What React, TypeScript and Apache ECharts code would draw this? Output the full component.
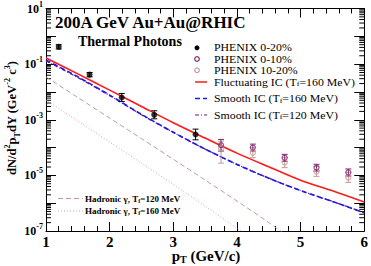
import React, { useEffect, useRef } from "react";
import * as echarts from "echarts";

const FONT = "'Liberation Serif', 'Times New Roman', serif";

// PHENIX 0-20% (filled black)
const phx020X = [1.2, 1.685, 2.19, 2.7, 3.35];
const phx020Y = [0.42, 0.042, 0.0063, 0.0015, 2.95e-4];
const phx020Lo = [0.35, 0.035, 0.0045, 0.00108, 1.9e-4];
const phx020Hi = [0.5, 0.05, 0.0088, 0.0021, 4.6e-4];

// PHENIX 0-10% and 10-20% (open circles)
const phxX = [3.75, 4.25, 4.75, 5.25, 5.75];
const phx010Y = [1.23e-4, 1.0e-4, 4.3e-5, 1.9e-5, 1.27e-5];
const phx010Lo = [7.5e-5, 7.5e-5, 3.2e-5, 1.43e-5, 9.5e-6];
const phx010Hi = [1.96e-4, 1.33e-4, 5.7e-5, 2.5e-5, 1.7e-5];
const phx1020Y = [9.5e-5, 6.5e-5, 2.9e-5, 1.38e-5, 8.4e-6];
const phx1020Lo = [2.75e-5, 4.3e-5, 1.9e-5, 9.2e-6, 5.6e-6];
const phx1020Hi = [1.7e-4, 9.8e-5, 4.3e-5, 2.07e-5, 1.26e-5];

// Model curves
const curveX = [1, 1.5, 2, 2.5, 3, 3.5, 4, 4.5, 5, 5.5, 6];
const fluct160 = [0.166, 0.0447, 0.0116, 3.0e-3, 7.8e-4, 2.19e-4, 6.3e-5, 2.03e-5, 6.7e-6, 2.8e-6, 1.1e-6];
const smooth160 = [0.141, 0.035, 7.7e-3, 1.56e-3, 3.56e-4, 8.85e-5, 2.48e-5, 7.9e-6, 2.83e-6, 1.15e-6, 4.5e-7];
const smooth120 = [0.13, 0.033, 7.4e-3, 1.52e-3, 3.5e-4, 8.8e-5, 2.5e-5, 7.95e-6, 2.85e-6, 1.16e-6, 4.6e-7];
const hadronX = [1, 1.5, 2, 2.5, 3, 3.5, 4, 4.5, 5];
const hadron120 = [0.0347, 0.0063, 1.15e-3, 2.1e-4, 3.8e-5, 6.8e-6, 1.2e-6, 2.0e-7, 3.0e-8];
const hadron160 = [5.1e-3, 9.1e-4, 1.58e-4, 2.75e-5, 4.7e-6, 7.9e-7, 1.26e-7, 2.0e-8, 3.0e-9];

// Axis ticks
const xTickLabels = ["1", "2", "3", "4", "5", "6"];
const yDecades = [1e-7, 1e-6, 1e-5, 1e-4, 1e-3, 1e-2, 1e-1, 1];
const yMantissas = [2, 3, 4, 5, 6, 7, 8, 9];
const yMinorTicks = yDecades.flatMap((d) => yMantissas.map((m) => m * d));

const RED = "#ff1a1a";
const BLUE = "#1a1aff";
const PURPLE = "#7a1466";
const PHX010 = "#7f2a6f";
const PHX1020 = "#c79a9a";
const HAD120 = "#c49a9a";
const HAD160 = "#dca0ac";

const errSeries = (xs: number[], lo: number[], hi: number[], color: string, z: number) => ({
  type: "custom",
  silent: true,
  z,
  data: xs.map((x, i) => [x, lo[i], hi[i]]),
  encode: { x: 0, y: [1, 2] },
  renderItem: (params: any, api: any) => {
    const x = api.value(0);
    const p1 = api.coord([x, api.value(1)]);
    const p2 = api.coord([x, api.value(2)]);
    const w = 3;
    const st = { stroke: color, lineWidth: 1 };
    return {
      type: "group",
      children: [
        { type: "line", shape: { x1: p1[0], y1: p1[1], x2: p2[0], y2: p2[1] }, style: st },
        { type: "line", shape: { x1: p1[0] - w, y1: p1[1], x2: p1[0] + w, y2: p1[1] }, style: st },
        { type: "line", shape: { x1: p2[0] - w, y1: p2[1], x2: p2[0] + w, y2: p2[1] }, style: st },
      ],
    };
  },
});

const lineSeries = (name: string, xs: number[], ys: number[], color: string, width: number, dash: any) => ({
  type: "line",
  name,
  data: xs.map((x, i) => [x, ys[i]]),
  showSymbol: false,
  symbol: "none",
  smooth: 0.3,
  clip: true,
  lineStyle: { color, width, type: dash },
  z: 2,
});

export default function App() {
  const ref = useRef<HTMLDivElement>(null);
  useEffect(() => {
    document.body.style.margin = "0";
    const chart = echarts.init(ref.current!, null, { renderer: "svg" });

    const xAxisBase = {
      type: "value",
      min: 1,
      max: 6,
      interval: 1,
      axisLine: { show: true, onZero: false, lineStyle: { color: "#000", width: 1 } },
      axisTick: { show: true, inside: true, length: 9, lineStyle: { color: "#000", width: 1 } },
      minorTick: { show: true, splitNumber: 5, length: 5, lineStyle: { color: "#000", width: 1 } },
      splitLine: { show: false },
      minorSplitLine: { show: false },
    };
    const yAxisBase = {
      type: "log",
      logBase: 10,
      min: 1e-7,
      max: 10,
      splitNumber: 8,
      axisLine: { show: true, onZero: false, lineStyle: { color: "#000", width: 1 } },
      axisTick: { show: true, inside: true, length: 10, lineStyle: { color: "#000", width: 1 } },
      splitLine: { show: false },
    };

    const subRich = (size: number, bold: boolean, lh: number, subSize: number, subLh: number) => ({
      m: { fontSize: size, fontFamily: FONT, fontWeight: bold ? "bold" : "normal", fill: "#000", lineHeight: lh },
      f: { fontSize: subSize, fontFamily: FONT, fontWeight: bold ? "bold" : "normal", fill: "#000", verticalAlign: "bottom", lineHeight: subLh },
    });

    const legendRows = [
      { y: 47.8, text: "{m|PHENIX 0-20%}", mark: "dot" },
      { y: 59, text: "{m|PHENIX 0-10%}", mark: "c1" },
      { y: 70.3, text: "{m|PHENIX 10-20%}", mark: "c2" },
      { y: 82, text: "{m|Fluctuating IC (T}{f|f}{m|=160 MeV)}", mark: "red" },
      { y: 98.5, text: "{m|Smooth IC (T}{f|f}{m|=160 MeV)}", mark: "blue" },
      { y: 115, text: "{m|Smooth IC (T}{f|f}{m|=120 MeV)}", mark: "purple" },
    ];
    const graphics: any[] = [];
    legendRows.forEach((r) => {
      graphics.push({
        type: "text",
        x: 214,
        y: r.y,
        scaleX: 1.16,
        style: { text: r.text, rich: subRich(10.2, false, 11, 7, 5), align: "left", verticalAlign: "middle" },
      });
      if (r.mark === "dot") graphics.push({ type: "circle", shape: { cx: 197, cy: r.y, r: 2.5 }, style: { fill: "#000" } });
      if (r.mark === "c1") graphics.push({ type: "circle", shape: { cx: 197, cy: r.y, r: 2.3 }, style: { fill: "none", stroke: PHX010, lineWidth: 1.2 } });
      if (r.mark === "c2") graphics.push({ type: "circle", shape: { cx: 197, cy: r.y, r: 2.3 }, style: { fill: "none", stroke: PHX1020, lineWidth: 1.2 } });
      if (r.mark === "red") graphics.push({ type: "line", shape: { x1: 195, y1: r.y, x2: 207, y2: r.y }, style: { stroke: RED, lineWidth: 1.5 } });
      if (r.mark === "blue") graphics.push({ type: "line", shape: { x1: 195, y1: r.y, x2: 207, y2: r.y }, style: { stroke: BLUE, lineWidth: 1.5, lineDash: [5, 3] } });
      if (r.mark === "purple") graphics.push({ type: "line", shape: { x1: 195, y1: r.y, x2: 207, y2: r.y }, style: { stroke: PURPLE, lineWidth: 1.2, lineDash: [4, 2, 1, 2] } });
    });
    // hadronic legend
    graphics.push({ type: "line", shape: { x1: 58, y1: 198.5, x2: 83, y2: 198.5 }, style: { stroke: HAD120, lineWidth: 1, lineDash: [5, 3] } });
    graphics.push({ type: "line", shape: { x1: 58, y1: 211, x2: 83, y2: 211 }, style: { stroke: HAD160, lineWidth: 1, lineDash: [1, 2] } });
    graphics.push({ type: "text", x: 85, y: 198.5, style: { text: "{m|Hadronic γ, T}{f|f}{m|=120 MeV}", rich: subRich(9, true, 10, 6, 5), align: "left", verticalAlign: "middle" } });
    graphics.push({ type: "text", x: 85, y: 211, style: { text: "{m|Hadronic γ, T}{f|f}{m|=160 MeV}", rich: subRich(9, true, 10, 6, 5), align: "left", verticalAlign: "middle" } });
    // titles
    graphics.push({ type: "text", x: 55, y: 22.5, style: { text: "200A GeV Au+Au@RHIC", font: `bold 17px ${FONT}`, fill: "#000", align: "left", verticalAlign: "middle" } });
    graphics.push({ type: "text", x: 78, y: 41.5, style: { text: "Thermal Photons", font: `bold 14px ${FONT}`, fill: "#000", align: "left", verticalAlign: "middle" } });
    // axis titles
    graphics.push({
      type: "text",
      x: 206,
      y: 256,
      style: {
        text: "{m|p}{f|T}{m| (GeV/c)}",
        rich: subRich(15, true, 16, 10, 10),
        align: "center",
        verticalAlign: "middle",
      },
    });
    graphics.push({
      type: "text",
      x: 12,
      y: 118,
      rotation: Math.PI / 2,
      style: {
        text: "{m|dN/d}{s|2}{m|p}{f|T}{m|dY (GeV}{s|-2}{m| c}{s|3}{m|)}",
        rich: {
          m: { fontSize: 12.5, fontFamily: FONT, fontWeight: "bold", fill: "#000", lineHeight: 18 },
          s: { fontSize: 8, fontFamily: FONT, fontWeight: "bold", fill: "#000", verticalAlign: "top", lineHeight: 9 },
          f: { fontSize: 8, fontFamily: FONT, fontWeight: "bold", fill: "#000", verticalAlign: "bottom", lineHeight: 12 },
        },
        align: "center",
        verticalAlign: "middle",
      },
    });

    const option: any = {
      animation: false,
      backgroundColor: "#fff",
      grid: { left: 46, right: 4, top: 6, bottom: 35, containLabel: false },
      xAxis: [
        {
          ...xAxisBase,
          position: "bottom",
          axisLabel: {
            show: true,
            margin: 3,
            color: "#000",
            fontFamily: FONT,
            fontWeight: "bold",
            fontSize: 15,
            formatter: (v: number) => xTickLabels[Math.round(v) - 1] ?? "",
          },
        },
        { ...xAxisBase, position: "top", axisLabel: { show: false } },
      ],
      yAxis: [
        {
          ...yAxisBase,
          position: "left",
          axisLabel: {
            show: true,
            margin: 3,
            formatter: (v: number) => {
              const e = Math.round(Math.log10(v));
              return e % 2 === 0 ? "" : `{b|10}{s|${e}}`;
            },
            rich: {
              b: { fontSize: 12, fontFamily: FONT, fontWeight: "bold", color: "#000", lineHeight: 17 },
              s: { fontSize: 8, fontFamily: FONT, fontWeight: "bold", color: "#000", verticalAlign: "top", lineHeight: 9 },
            },
          },
        },
        { ...yAxisBase, position: "right", axisLabel: { show: false } },
      ],
      graphic: graphics,
      series: [
        lineSeries("Hadronic 160", hadronX, hadron160, HAD160, 1, [1, 2]),
        lineSeries("Hadronic 120", hadronX, hadron120, HAD120, 1, [5, 3]),
        lineSeries("Smooth IC 120", curveX, smooth120, PURPLE, 1.3, [4, 2, 1, 2]),
        lineSeries("Smooth IC 160", curveX, smooth160, BLUE, 1.6, [5, 3]),
        lineSeries("Fluctuating IC 160", curveX, fluct160, RED, 1.6, "solid"),
        {
          type: "custom",
          silent: true,
          z: 1,
          data: yMinorTicks.map((v) => [1, v]),
          encode: { x: 0, y: 1 },
          renderItem: (params: any, api: any) => {
            const cs = params.coordSys;
            const p = api.coord([1, api.value(1)]);
            const st = { stroke: "#000", lineWidth: 1 };
            return {
              type: "group",
              children: [
                { type: "line", shape: { x1: cs.x, y1: p[1], x2: cs.x + 5, y2: p[1] }, style: st },
                { type: "line", shape: { x1: cs.x + cs.width, y1: p[1], x2: cs.x + cs.width - 5, y2: p[1] }, style: st },
              ],
            };
          },
        },
        errSeries(phxX, phx1020Lo, phx1020Hi, PHX1020, 3),
        errSeries(phxX, phx010Lo, phx010Hi, PHX010, 4),
        errSeries(phx020X, phx020Lo, phx020Hi, "#000", 5),
        {
          type: "scatter",
          name: "PHENIX 10-20%",
          z: 6,
          symbol: "circle",
          symbolSize: 5,
          data: phxX.map((x, i) => [x, phx1020Y[i]]),
          itemStyle: { color: "transparent", borderColor: PHX1020, borderWidth: 1.2 },
        },
        {
          type: "scatter",
          name: "PHENIX 0-10%",
          z: 7,
          symbol: "circle",
          symbolSize: 5,
          data: phxX.map((x, i) => [x, phx010Y[i]]),
          itemStyle: { color: "transparent", borderColor: PHX010, borderWidth: 1.2 },
        },
        {
          type: "scatter",
          name: "PHENIX 0-20%",
          z: 8,
          symbol: "circle",
          symbolSize: 6,
          data: phx020X.map((x, i) => [x, phx020Y[i]]),
          itemStyle: { color: "#000" },
        },
      ],
    };
    chart.setOption(option);
    return () => chart.dispose();
  }, []);
  return <div ref={ref} style={{ width: 371, height: 266 }} />;
}
